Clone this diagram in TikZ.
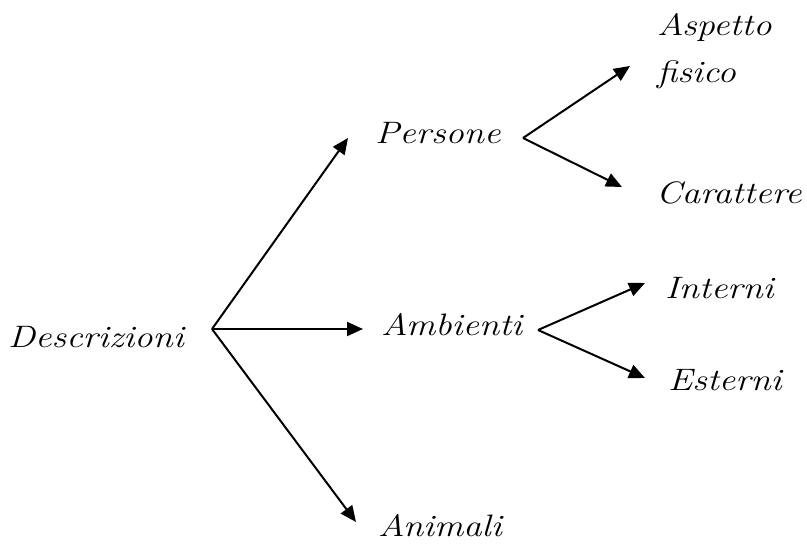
\documentclass[tikz,border=0pt]{standalone}
\usetikzlibrary{arrows.meta}
\newcommand{\hw}[1]{\scalebox{1.18}[1]{#1}}
\begin{document}
\begin{tikzpicture}[x=1pt,y=-1pt,
  lbl/.style={font=\fontsize{31}{36}\selectfont\itshape, inner sep=0pt, anchor=base west},
  arr/.style={line width=2pt, -{Triangle[length=16pt,width=14pt]}}]
\useasboundingbox (0,0) rectangle (807,547);
% labels
\node[lbl] (desc) at (8,347) {\hw{Descrizioni}};
\node[lbl] (pers) at (375,143) {\hw{Persone}};
\node[lbl] (amb)  at (381,335) {\hw{Ambienti}};
\node[lbl] (anim) at (378,536) {\hw{Animali}};
\node[lbl] (asp)  at (657,35) {\hw{Aspetto}};
\node[lbl] (fis)  at (657,82) {\hw{fisico}};
\node[lbl] (car)  at (656,203) {\hw{Carattere}};
\node[lbl] (int)  at (665,298) {\hw{Interni}};
\node[lbl] (est)  at (668,390) {\hw{Esterni}};
% branch points and tips
\coordinate (o)  at (212,329);
\coordinate (tp) at (348,138);
\coordinate (ta) at (363,329);
\coordinate (tn) at (356,522);
\coordinate (p)  at (523,138);
\coordinate (tasp) at (630,66);
\coordinate (tcar) at (622,187);
\coordinate (a)  at (538,330);
\coordinate (tint) at (645,283);
\coordinate (test) at (645,378);
% connectors
\draw[arr] (o) -- (tp);
\draw[arr] (o) -- (ta);
\draw[arr] (o) -- (tn);
\draw[arr] (p) -- (tasp);
\draw[arr] (p) -- (tcar);
\draw[arr] (a) -- (tint);
\draw[arr] (a) -- (test);
\end{tikzpicture}
\end{document}
